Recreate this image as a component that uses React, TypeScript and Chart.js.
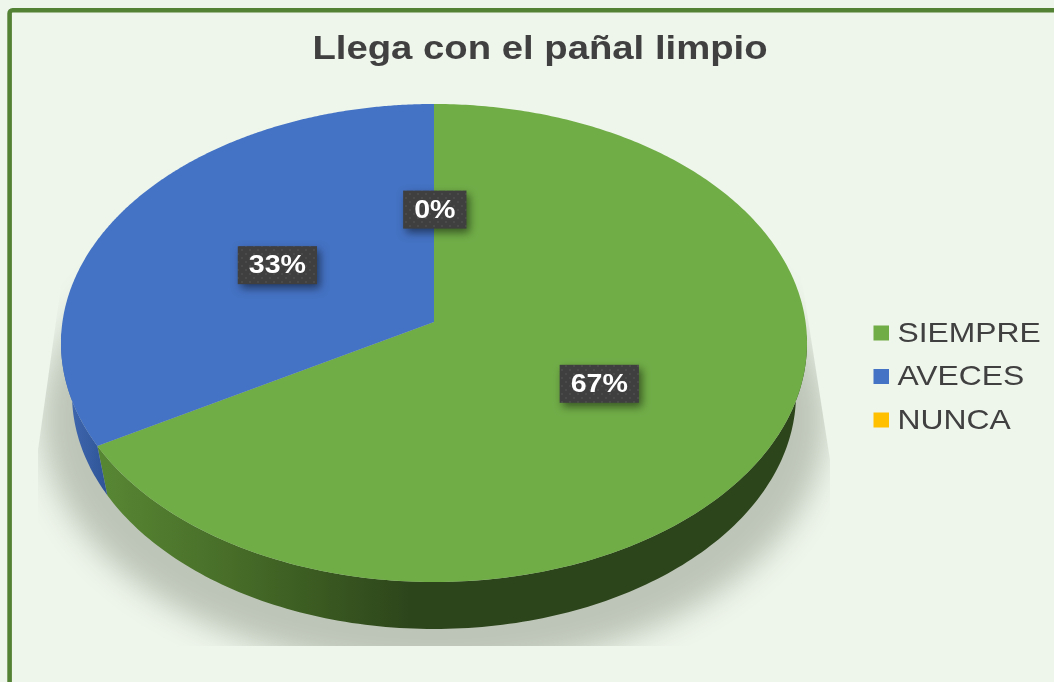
import React, { useEffect, useRef } from "react";
import { Chart, registerables } from "chart.js";

Chart.register(...registerables);

const categories = ["SIEMPRE", "AVECES", "NUNCA"];
const shares = [66.67, 33.33, 0];
const sliceColors = ["#70AD47", "#4472C4", "#FFC000"];
const titleText = "Llega con el pañal limpio";

const FONT = '"Liberation Sans", Arial, sans-serif';
const INK = "#404040";
const BG = "#EEF5EB";

// Tilted disc geometry (layout of the 3-D look)
const top3d = { cx: 434, cy: 343, rx: 373, ry: 239 };
const bottom3d = { cx: 434, cy: 394, rx: 362, ry: 235 };
const tilt = -0.088; // perspective shift of the pie's apex

// Circle point at radius f, clockwise angle t from 12 o'clock -> tilted unit disc
function project(f: number, t: number) {
  const x = f * Math.sin(t);
  const y = -f * Math.cos(t);
  const d = 1 + tilt * y;
  return { x: (x * Math.sqrt(1 - tilt * tilt)) / d, y: (y + tilt) / d };
}
const onTop = (p: { x: number; y: number }) => ({ x: top3d.cx + top3d.rx * p.x, y: top3d.cy + top3d.ry * p.y });
const onBottom = (p: { x: number; y: number }) => ({ x: bottom3d.cx + bottom3d.rx * p.x, y: bottom3d.cy + bottom3d.ry * p.y });

function stretchedText(ctx: CanvasRenderingContext2D, text: string, x: number, y: number, sx: number) {
  ctx.save();
  ctx.translate(x, y);
  ctx.scale(sx, 1);
  ctx.fillText(text, 0, 0);
  ctx.restore();
}

function dotPattern(ctx: CanvasRenderingContext2D) {
  const c = document.createElement("canvas");
  c.width = 8;
  c.height = 8;
  const p = c.getContext("2d")!;
  p.fillStyle = "#3F3F3F";
  p.fillRect(0, 0, 8, 8);
  p.fillStyle = "#4A4A4A";
  p.fillRect(1, 1, 2, 2);
  p.fillRect(5, 5, 2, 2);
  return ctx.createPattern(c, "repeat")!;
}

function sideGradient(ctx: CanvasRenderingContext2D, index: number) {
  if (index === 0) {
    const g = ctx.createLinearGradient(105, 0, 410, 0);
    g.addColorStop(0, "#578633");
    g.addColorStop(0.35, "#4A712A");
    g.addColorStop(0.7, "#3A5A21");
    g.addColorStop(1, "#2D451B");
    return g;
  }
  const g = ctx.createLinearGradient(68, 0, 106, 0);
  g.addColorStop(0, "#4068B0");
  g.addColorStop(1, "#2F5597");
  return g;
}

const pie3dPlugin = {
  id: "pie3d",
  beforeDraw(chart: any) {
    const ctx: CanvasRenderingContext2D = chart.ctx;
    const W = chart.width;
    const H = chart.height;
    ctx.save();
    ctx.fillStyle = BG;
    ctx.fillRect(0, 0, W, H);
    ctx.strokeStyle = "#548235";
    ctx.lineWidth = 4.6;
    ctx.beginPath();
    ctx.roundRect(9.6, 10.2, W + 40, H + 40, 3);
    ctx.stroke();
    ctx.restore();

    // Chart.js keeps title and legend; only their painting is stretched like the source image
    chart.titleBlock.draw = function () {
      ctx.save();
      ctx.font = `bold 33px ${FONT}`;
      ctx.fillStyle = INK;
      ctx.textAlign = "center";
      ctx.textBaseline = "alphabetic";
      stretchedText(ctx, this.options.text, 540, 59, 1.16);
      ctx.restore();
    };
    chart.legend.draw = function () {
      ctx.save();
      ctx.font = `27.5px ${FONT}`;
      ctx.textBaseline = "middle";
      ctx.textAlign = "left";
      this.legendItems.forEach((item: any, i: number) => {
        const y = 333 + i * 43.5;
        ctx.fillStyle = item.fillStyle;
        ctx.fillRect(873.5, y - 7.5, 15.5, 15);
        ctx.fillStyle = INK;
        stretchedText(ctx, item.text, 897.5, y + 1, 1.157);
      });
      ctx.restore();
    };
  },
  beforeDatasetsDraw(chart: any) {
    const ctx: CanvasRenderingContext2D = chart.ctx;
    const arcs = chart.getDatasetMeta(0).data;
    const half = Math.PI / 2;

    // Ground shadow, clipped like the source's picture
    ctx.save();
    ctx.beginPath();
    [[66, 250], [38, 450], [38, 646], [830, 646], [830, 460], [803, 287], [795, 250]].forEach(([x, y], i) =>
      i ? ctx.lineTo(x, y) : ctx.moveTo(x, y)
    );
    ctx.closePath();
    ctx.clip();
    ctx.shadowColor = "#BDC5B8";
    ctx.shadowBlur = 30;
    ctx.shadowOffsetX = 3000;
    ctx.fillStyle = "#000";
    ctx.beginPath();
    ctx.ellipse(434 - 3000, 420, 392, 250, 0, 0, Math.PI * 2);
    ctx.fill();
    ctx.restore();

    // Side wall of every slice
    arcs.forEach((arc: any, i: number) => {
      const a = arc.startAngle + half;
      const b = arc.endAngle + half;
      if (b - a <= 0) return;
      const pts: { x: number; y: number }[] = [];
      for (let s = 0; s <= 240; s++) {
        const p = project(1, a + ((b - a) * s) / 240);
        if (p.y > -0.05) pts.push(p);
      }
      if (!pts.length) return;
      ctx.beginPath();
      pts.forEach((p, k) => {
        const q = onTop(p);
        k ? ctx.lineTo(q.x, q.y) : ctx.moveTo(q.x, q.y);
      });
      pts.slice().reverse().forEach((p) => {
        const q = onBottom(p);
        ctx.lineTo(q.x, q.y);
      });
      ctx.closePath();
      ctx.fillStyle = sideGradient(ctx, i);
      ctx.fill();
    });

    // Top face
    arcs.forEach((arc: any) => {
      const a = arc.startAngle + half;
      const b = arc.endAngle + half;
      if (b - a <= 0) return;
      ctx.beginPath();
      const apex = onTop(project(0, 0));
      ctx.moveTo(apex.x, apex.y);
      for (let s = 0; s <= 360; s++) {
        const q = onTop(project(1, a + ((b - a) * s) / 360));
        ctx.lineTo(q.x, q.y);
      }
      ctx.closePath();
      ctx.fillStyle = arc.options.backgroundColor;
      ctx.fill();
    });

    // Data labels
    const pattern = dotPattern(ctx);
    const data = chart.data.datasets[0].data;
    const total = data.reduce((s: number, v: number) => s + v, 0);
    ctx.save();
    ctx.font = `bold 26px ${FONT}`;
    ctx.textAlign = "center";
    ctx.textBaseline = "middle";
    arcs.forEach((arc: any, i: number) => {
      const mid = (arc.startAngle + arc.endAngle) / 2 + half;
      const c = onTop(project(0.5, mid));
      const text = `${((data[i] / total) * 100).toFixed(0)}%`;
      const w = ctx.measureText(text).width * 1.1 + 22;
      const h = 38;
      const cy = c.y + 1.2;
      const cx = c.x + 0.8;
      ctx.save();
      ctx.shadowColor = "rgba(0,0,0,0.5)";
      ctx.shadowBlur = 8;
      ctx.shadowOffsetX = 3;
      ctx.shadowOffsetY = 4;
      ctx.fillStyle = pattern;
      ctx.fillRect(cx - w / 2, cy - h / 2, w, h);
      ctx.restore();
      ctx.fillStyle = "#FFFFFF";
      stretchedText(ctx, text, cx, cy + 1, 1.1);
    });
    ctx.restore();
    return false;
  },
};

export default function App() {
  const ref = useRef<HTMLCanvasElement>(null);
  useEffect(() => {
    const chart = new Chart(ref.current!, {
      type: "pie",
      data: {
        labels: categories,
        datasets: [{ data: shares, backgroundColor: sliceColors, borderWidth: 0 }],
      },
      options: {
        responsive: false,
        animation: false,
        plugins: {
          title: { display: true, text: titleText, font: { family: FONT, size: 33, weight: "bold" }, color: INK },
          legend: { position: "right", labels: { font: { family: FONT, size: 27.5 }, color: INK } },
          tooltip: { enabled: false },
        },
      },
      plugins: [pie3dPlugin],
    } as any);
    return () => chart.destroy();
  }, []);
  return (
    <div style={{ position: "absolute", left: 0, top: 0, width: 1054, height: 682, overflow: "hidden" }}>
      <canvas ref={ref} width={1054} height={682} style={{ display: "block" }} />
    </div>
  );
}
